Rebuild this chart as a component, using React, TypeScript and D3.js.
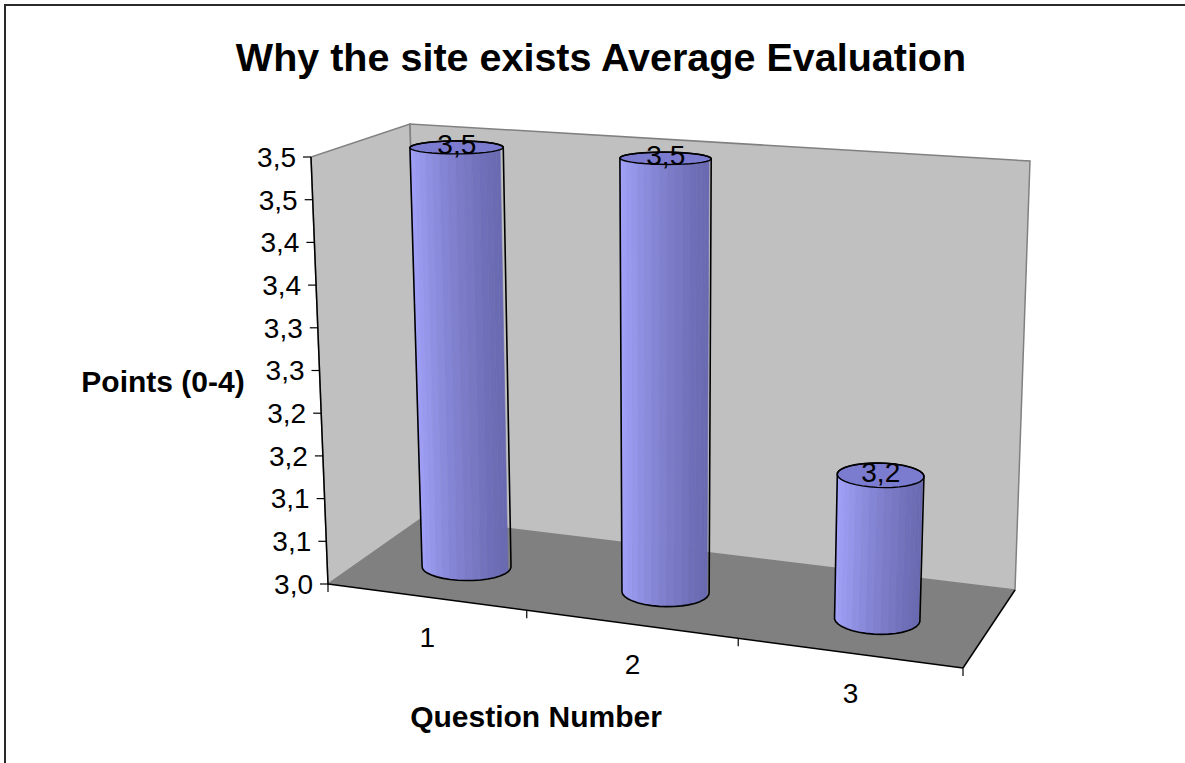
import React from 'react';
import * as d3 from 'd3';

// ---------- data ----------
const categories = ['1', '2', '3'];
const values = [3.5, 3.5, 3.16];
const valueLabels = ['3,5', '3,5', '3,2'];
const yTickValues = [3.0, 3.05, 3.1, 3.15, 3.2, 3.25, 3.3, 3.35, 3.4, 3.45, 3.5];
const yTickLabels = ['3,0', '3,1', '3,1', '3,2', '3,2', '3,3', '3,3', '3,4', '3,4', '3,5', '3,5'];
const title = 'Why the site exists Average Evaluation';
const yTitle = 'Points (0-4)';
const xTitle = 'Question Number';

// ---------- layout ----------
const W = 1185;
const H = 763;
type P = [number, number];
// floor (value = min) corners
const FL0: P = [328, 584];
const FR0: P = [963, 668];
const BR0: P = [1015, 590];
const BL0: P = [422, 518];
// top plane (value = max) corners
const FL1: P = [311, 157];
const FR1: P = [980, 188];
const BR1: P = [1030, 161];
const BL1: P = [410, 124];

const FONT = '"Liberation Sans", Arial, sans-serif';

const lerp = (a: P, b: P, t: number): P => [a[0] + (b[0] - a[0]) * t, a[1] + (b[1] - a[1]) * t];
const bil = (fl: P, fr: P, br: P, bl: P, f: number, d: number): P =>
  lerp(lerp(fl, fr, f), lerp(bl, br, f), d);
// f: 0..1 along categories, d: 0..1 depth (front->back), t: 0..1 value
const project = (f: number, d: number, t: number): P =>
  lerp(bil(FL0, FR0, BR0, BL0, f, d), bil(FL1, FR1, BR1, BL1, f, d), t);

const yScale = d3.scaleLinear().domain([3.0, 3.5]).range([0, 1]).clamp(true);
const xScale = d3.scaleLinear().domain([0, 1, 2, 3]).range([0, 0.313, 0.646, 1]);

const BAR_D = 0.45;
const RF = 0.067;
const RD = 0.19;
const N = 36;

const sideColor = d3.interpolateRgb('#a6a6ff', '#6a6ab2');
const poly = (pts: P[]) => 'M' + pts.map((p) => p[0].toFixed(2) + ',' + p[1].toFixed(2)).join('L') + 'Z';

function Cylinder({ index }: { index: number }) {
  const fc = xScale(index + 0.5);
  const t = yScale(values[index]);
  const angles = d3.range(N).map((i) => (i / N) * Math.PI * 2);
  const bottom = angles.map((a) => project(fc + RF * Math.cos(a), BAR_D + RD * Math.sin(a), 0));
  const top = angles.map((a) => project(fc + RF * Math.cos(a), BAR_D + RD * Math.sin(a), t));
  const facets: { d: string; c: string }[] = [];
  for (let i = 0; i < N; i++) {
    const j = (i + 1) % N;
    const am = ((i + 0.5) / N) * Math.PI * 2;
    if (Math.sin(am) > 0.05) continue; // back facets hidden
    facets.push({
      d: poly([bottom[i], bottom[j], top[j], top[i]]),
      c: sideColor((Math.cos(am) + 1) / 2),
    });
  }
  const hull = d3.polygonHull([...bottom, ...top]) as P[];
  const center = project(fc, BAR_D, t);
  return (
    <g>
      {facets.map((f, k) => (
        <path key={k} d={f.d} fill={f.c} stroke={f.c} strokeWidth={0.6} />
      ))}
      <path d={poly(top)} fill="#7b7bcf" stroke="#000" strokeWidth={1.4} />
      <path d={poly(hull)} fill="none" stroke="#000" strokeWidth={1.6} strokeLinejoin="round" />
      <text x={center[0]} y={center[1] - 3} dy="0.35em" textAnchor="middle" fontSize={28} fontFamily={FONT} fill="#000">
        {valueLabels[index]}
      </text>
    </g>
  );
}

export default function App() {
  const yTicks = yTickValues.map((v, i) => ({ p: project(0, 0, yScale(v)), label: yTickLabels[i] }));
  const xTicks = d3.range(categories.length + 1).map((i) => project(xScale(i), 0, 0));
  const catLabels = categories.map((c, i) => ({ p: project(xScale(i + 0.5), 0, 0), c }));
  return (
    <svg width={W} height={H} style={{ position: 'absolute', left: 0, top: 0, background: '#fff' }} fontFamily={FONT}>
      <rect x={5} y={5} width={1300} height={900} fill="#fff" stroke="#2a2a2a" strokeWidth={2} />
      <text x={601} y={71} textAnchor="middle" fontSize={39.5} fontWeight="bold">
        {title}
      </text>
      {/* walls */}
      <path d={poly([FL0, BL0, BL1, FL1])} fill="#c0c0c0" stroke="#808080" strokeWidth={1.5} />
      <path d={poly([BL0, BR0, BR1, BL1])} fill="#c0c0c0" stroke="#808080" strokeWidth={1.5} />
      <path d={poly([FL0, FR0, BR0, BL0])} fill="#808080" />
      <line x1={FL0[0]} y1={FL0[1]} x2={FR0[0]} y2={FR0[1]} stroke="#000" strokeWidth={1.5} />
      <line x1={FR0[0]} y1={FR0[1]} x2={BR0[0]} y2={BR0[1]} stroke="#000" strokeWidth={1.5} />
      <line x1={FL0[0]} y1={FL0[1]} x2={FL1[0]} y2={FL1[1]} stroke="#000" strokeWidth={1.5} />
      {/* y ticks */}
      {yTicks.map((t, i) => (
        <g key={i}>
          <line x1={t.p[0] - 8} y1={t.p[1]} x2={t.p[0]} y2={t.p[1]} stroke="#000" strokeWidth={1.2} />
          <text x={t.p[0] - 15} y={t.p[1]} dy="0.35em" textAnchor="end" fontSize={28}>
            {t.label}
          </text>
        </g>
      ))}
      {/* x ticks */}
      {xTicks.map((p, i) => (
        <line key={i} x1={p[0]} y1={p[1]} x2={p[0]} y2={p[1] + 8} stroke="#000" strokeWidth={1.2} />
      ))}
      {catLabels.map((l, i) => (
        <text key={i} x={l.p[0]} y={l.p[1] + 40} dy="0.35em" textAnchor="middle" fontSize={28}>
          {l.c}
        </text>
      ))}
      {/* bars */}
      {categories.map((_, i) => (
        <Cylinder key={i} index={i} />
      ))}
      <text x={163} y={381} dy="0.35em" textAnchor="middle" fontSize={30} fontWeight="bold">
        {yTitle}
      </text>
      <text x={536} y={716} dy="0.35em" textAnchor="middle" fontSize={30} fontWeight="bold">
        {xTitle}
      </text>
    </svg>
  );
}
